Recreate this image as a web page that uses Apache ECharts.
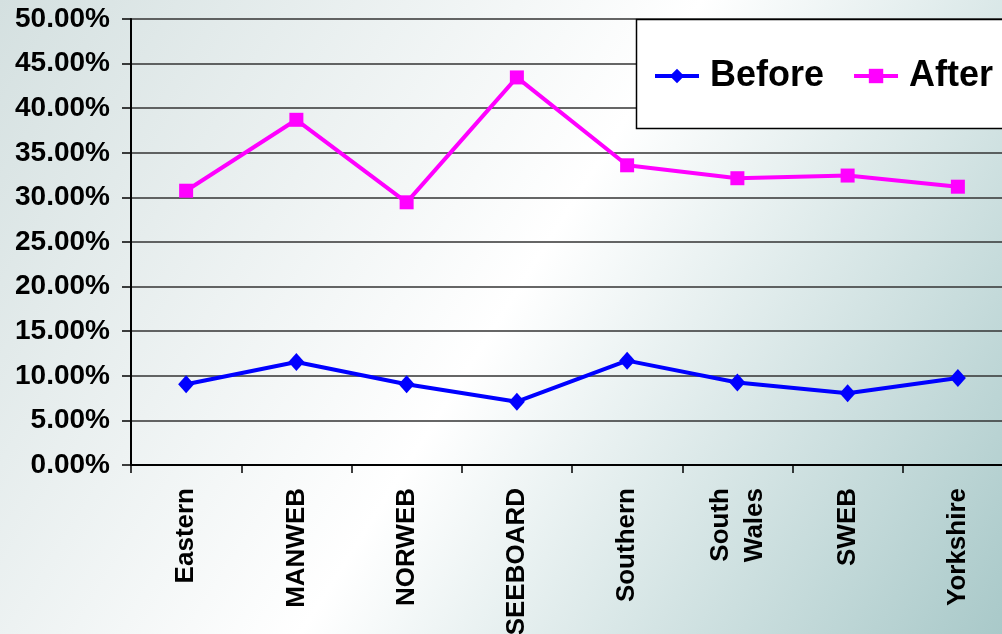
<!DOCTYPE html>
<html>
<head>
<meta charset="utf-8">
<script src="https://cdn.jsdelivr.net/npm/echarts@6/dist/echarts.min.js"></script>
<style>html,body{margin:0;padding:0;}#c{width:1002px;height:634px;}</style>
</head>
<body>
<div id="c"></div>
<script>
var categories = ['Eastern', 'MANWEB', 'NORWEB', 'SEEBOARD', 'Southern', 'South\nWales', 'SWEB', 'Yorkshire'];
var beforeValues = [9.05, 11.55, 9.05, 7.1, 11.7, 9.25, 8.05, 9.75];
var afterValues = [30.75, 38.7, 29.45, 43.45, 33.6, 32.15, 32.45, 31.2];
var seriesNames = ['Before', 'After'];

var FONT = '"Liberation Sans", Arial, sans-serif';
var chart = echarts.init(document.getElementById('c'), null, {renderer: 'canvas'});
chart.setOption({
  animation: false,
  backgroundColor: {
    type: 'linear', x: 0, y: 0, x2: 1, y2: 1,
    colorStops: [
      {offset: 0, color: '#d4e0e0'},
      {offset: 0.5, color: '#ffffff'},
      {offset: 1, color: '#a9c9c9'}
    ]
  },
  grid: {left: 131, width: 882, top: 19, height: 446, containLabel: false, outerBoundsMode: 'none'},
  graphic: [{
    type: 'rect', z: 50,
    shape: {x: 636.5, y: 19.5, width: 400, height: 109},
    style: {fill: '#ffffff', stroke: '#000000', lineWidth: 1.5}
  }],
  legend: {
    z: 60,
    left: 653, top: 58,
    itemWidth: 44, itemHeight: 18, itemGap: 28,
    padding: 0,
    lineStyle: {width: 4},
    textStyle: {fontFamily: FONT, fontWeight: 'bold', fontSize: 36, color: '#000', padding: [0, 0, 0, 6]},
    data: seriesNames
  },
  xAxis: {
    type: 'category',
    data: categories,
    boundaryGap: true,
    axisLine: {lineStyle: {color: '#000', width: 2}},
    axisTick: {show: true, length: 8, inside: false, lineStyle: {color: '#000', width: 1.5}},
    axisLabel: {
      rotate: 90, margin: 23, interval: 0,
      fontFamily: FONT, fontWeight: 'bold', fontSize: 26, color: '#000', lineHeight: 34
    }
  },
  yAxis: {
    type: 'value', min: 0, max: 50, interval: 5,
    axisLine: {show: true, lineStyle: {color: '#000', width: 2}},
    axisTick: {show: true, length: 9, inside: false, lineStyle: {color: '#000', width: 1.5}},
    splitLine: {show: true, lineStyle: {color: '#333', width: 1.5}},
    axisLabel: {
      margin: 21,
      fontFamily: FONT, fontWeight: 'bold', fontSize: 28, color: '#000',
      formatter: function (v) { return v.toFixed(2) + '%'; }
    }
  },
  series: [
    {
      name: seriesNames[0], type: 'line', data: beforeValues,
      symbol: 'diamond', symbolSize: [16, 18],
      lineStyle: {color: '#0000ff', width: 4},
      itemStyle: {color: '#0000ff'}
    },
    {
      name: seriesNames[1], type: 'line', data: afterValues,
      symbol: 'rect', symbolSize: 14,
      lineStyle: {color: '#ff00ff', width: 4},
      itemStyle: {color: '#ff00ff'}
    }
  ]
});
</script>
</body>
</html>
